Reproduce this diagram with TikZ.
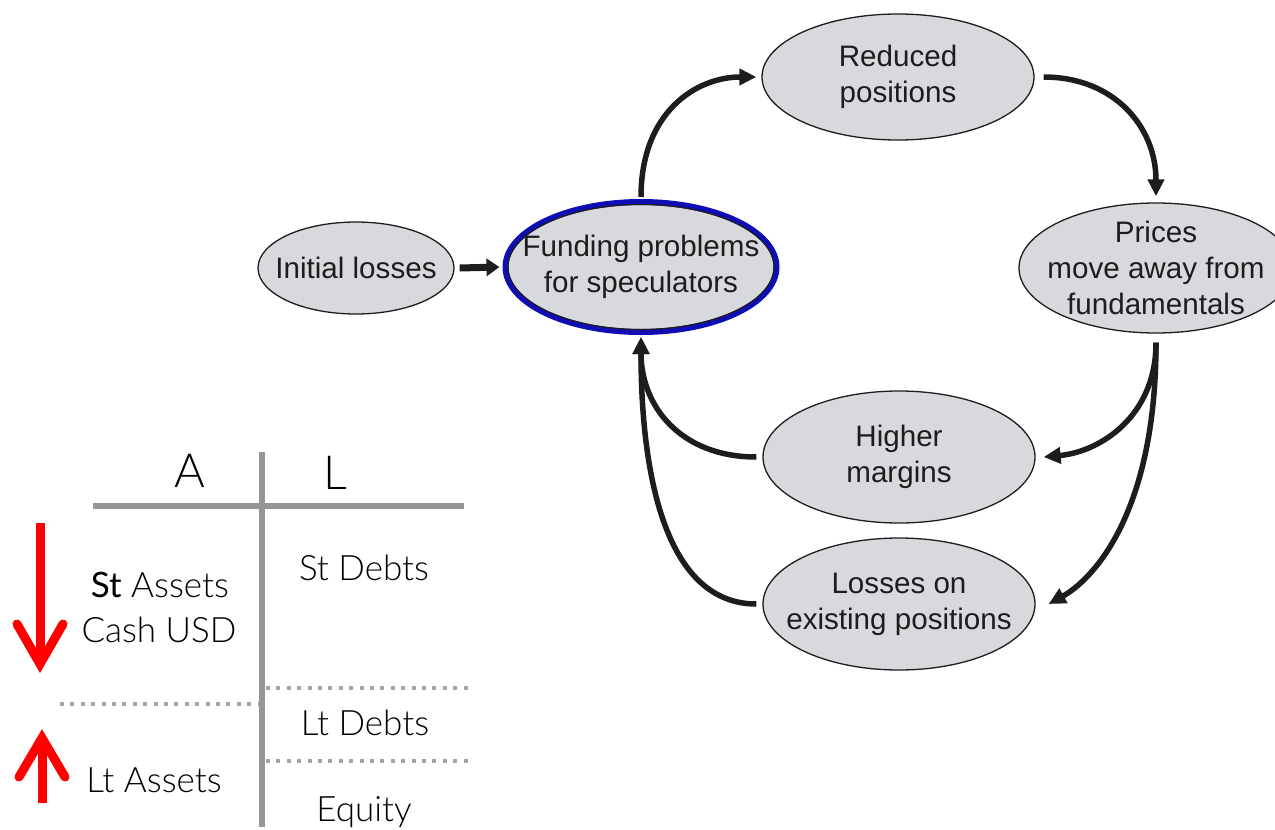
\documentclass[tikz,border=0pt]{standalone}
\usepackage{fontspec}
\setmainfont{Liberation Sans}
\newfontfamily\sheetlight{Lato Light}
\newfontfamily\sheetreg{Lato}
\usetikzlibrary{shapes.geometric,arrows.meta}

\definecolor{bubblefill}{RGB}{216,217,220}
\definecolor{inkdark}{RGB}{30,28,29}
\definecolor{ringblue}{RGB}{14,14,180}
\definecolor{rulegray}{RGB}{150,150,150}
\definecolor{dotgray}{RGB}{165,165,165}
\definecolor{alarmred}{RGB}{255,0,0}

\tikzset{
  bubble/.style={ellipse, draw=inkdark, line width=1.3pt, fill=bubblefill, inner sep=0pt},
  bubbletext/.style={align=center, text=inkdark, inner sep=0pt,
    font=\fontsize{29.6}{36}\selectfont},
  flow/.style={draw=inkdark, line width=5.5pt,
    -{Triangle[length=17pt,width=16pt]}},
  sheetrule/.style={draw=rulegray, line width=6pt},
  sheetdots/.style={draw=dotgray, line width=4pt, dash pattern=on 4pt off 6.4pt},
  sheettext/.style={anchor=base, inner sep=0pt, text=black,
    font=\sheetlight\fontsize{35}{40}\selectfont},
  sheethead/.style={anchor=base, inner sep=0pt, text=black,
    font=\sheetlight\fontsize{47}{50}\selectfont},
  redarrow/.style={draw=alarmred, line width=9pt},
  redhead/.style={draw=alarmred, line width=9pt, line cap=round, line join=miter},
}

\begin{document}
\begin{tikzpicture}[x=1pt,y=-1pt]
\useasboundingbox (0,0) rectangle (1275,830);
\clip (0,0) rectangle (1275,830);

% ---- feedback loop ----
\node[bubble, minimum width=196pt, minimum height=92pt] (init) at (356,268) {};
\node[bubbletext] at (init) {Initial losses};

\node[ellipse, draw=ringblue, line width=6pt, fill=bubblefill, inner sep=0pt,
      minimum width=271pt, minimum height=130pt] (fund) at (641,267) {};
\node[ellipse, draw=inkdark, line width=1.2pt, inner sep=0pt,
      minimum width=266pt, minimum height=125pt] at (fund) {};
\node[bubbletext] at (fund) {Funding problems\\for speculators};

\node[bubble, minimum width=272pt, minimum height=126pt] (reduced) at (898,77) {};
\node[bubbletext] at (reduced) {Reduced\\positions};

\node[bubble, minimum width=274pt, minimum height=130pt] (prices) at (1156,268) {};
\node[bubbletext] at (prices) {Prices\\move away from\\fundamentals};

\node[bubble, minimum width=272pt, minimum height=132pt] (higher) at (899,457) {};
\node[bubbletext] at (higher) {Higher\\margins};

\node[bubble, minimum width=272pt, minimum height=132pt] (losses) at (899,604) {};
\node[bubbletext] at (losses) {Losses on\\existing positions};

\draw[draw=inkdark, line width=7pt, -{Triangle[length=13pt,width=17pt]}]
  ([xshift=5pt]init.east) -- ([xshift=-3pt]fund.west);

\draw[flow] ([yshift=2pt]fund.north) .. controls +(0,-85) and +(-60,0) .. ([xshift=-5pt]reduced.west);
\draw[flow] ([xshift=9pt]reduced.east) .. controls +(70,0) and +(0,-70) .. ([yshift=6pt]prices.north);
\draw[flow] ([yshift=-9pt]prices.south) .. controls +(0,75) and +(55,-5) .. ([xshift=8pt]higher.east);
\draw[flow] ([yshift=-9pt]prices.south) .. controls +(0,170) and +(45,-25) .. ([xshift=13pt]losses.east);
\draw[flow] ([xshift=-6pt]higher.west) .. controls +(-75,0) and +(0,70) .. ([yshift=-2pt]fund.south);
\draw[flow] ([xshift=-6pt]losses.west) .. controls +(-90,0) and +(0,140) .. ([yshift=-2pt]fund.south);

% ---- balance sheet ----
\coordinate (vtop) at (262,452);
\coordinate (vbot) at (262,827);
\coordinate (hleft) at (93,506);
\coordinate (hright) at (464,506);
\draw[sheetrule] (vtop) -- (vbot);
\draw[sheetrule] (hleft) -- (hright);

\coordinate (dla) at (60,704);
\coordinate (dlb) at (258,704);
\coordinate (dra) at (266,688);
\coordinate (drb) at (468,688);
\coordinate (dsa) at (266,761);
\coordinate (dsb) at (468,761);
\draw[sheetdots] (dla) -- (dlb);
\draw[sheetdots] (dra) -- (drb);
\draw[sheetdots] (dsa) -- (dsb);

\node[sheethead] (colA) at (190,487) {A};
\node[sheethead] (colL) at (335,489) {L};

\node[sheettext] (stassets) at (160,597) {{\sheetreg St} Assets};
\node[sheettext] (cash) at (159,642) {Cash USD};
\node[sheettext] (ltassets) at (154,792) {Lt Assets};
\node[sheettext] (stdebts) at (364,580) {St Debts};
\node[sheettext] (ltdebts) at (365,735) {Lt Debts};
\node[sheettext] (equity) at (364,821) {Equity};

% red change markers
\coordinate (dntop) at (40,523);
\coordinate (dntip) at (40,664);
\draw[redarrow] (dntop) -- (dntip);
\draw[redhead] (17,624) -- (dntip) -- (63,624);

\coordinate (upbot) at (42,803);
\coordinate (uptip) at (42,738);
\draw[redarrow] (upbot) -- (uptip);
\draw[redhead] (19,777) -- (uptip) -- (65,777);
\end{tikzpicture}
\end{document}
